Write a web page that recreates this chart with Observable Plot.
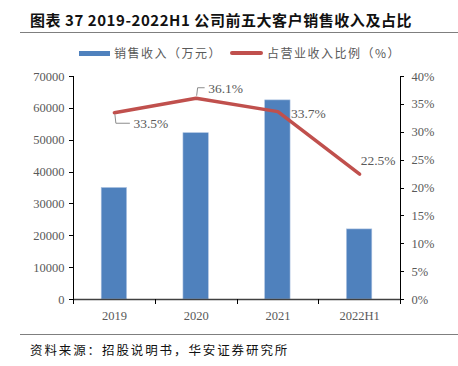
<!DOCTYPE html>
<html><head><meta charset="utf-8">
<script src="https://cdn.jsdelivr.net/npm/d3@7"></script>
<script src="https://cdn.jsdelivr.net/npm/@observablehq/plot@0.6"></script>
<style>
body{margin:0;background:#fff;width:458px;height:366px;position:relative;overflow:hidden;font-family:"Noto Sans CJK SC",sans-serif}
.title{position:absolute;left:30px;top:9px;font-size:15px;font-weight:bold;color:#111;white-space:nowrap;letter-spacing:0.55px}
.rule{position:absolute;left:20px;right:0;height:1px;background:#7f7f7f}
.legend{position:absolute;top:44px;font-size:12px;color:#595959;white-space:nowrap;letter-spacing:1.5px}
.sw{position:absolute;height:5px}
.foot{position:absolute;left:30px;top:340px;font-size:12.5px;color:#111;white-space:nowrap;letter-spacing:1.9px;font-family:"Noto Sans CJK SC",serif}
#chart{position:absolute;left:0;top:60px}
</style></head><body>
<div class="title">图表 37 2019-2022H1 公司前五大客户销售收入及占比</div>
<div class="rule" style="top:32px"></div>
<div class="sw" style="left:79px;top:51px;width:31px;background:#4f81bd"></div>
<div class="legend" style="left:114px">销售收入（万元）</div>
<div class="sw" style="left:230px;top:51px;width:33px;background:#c0504d;height:4px;border-radius:2px"></div>
<div class="legend" style="left:267px">占营业收入比例（%）</div>
<div id="chart"></div>
<div class="rule" style="top:334px"></div>
<div class="foot">资料来源：招股说明书，华安证券研究所</div>
<script>
const categories = ["2019", "2020", "2021", "2022H1"];
const sales = [35000, 52200, 62500, 22000];
const ratio = [0.335, 0.361, 0.337, 0.225];
const ratioLabels = ["33.5%", "36.1%", "33.7%", "22.5%"];
const leftTicks = [0, 10000, 20000, 30000, 40000, 50000, 60000, 70000];
const rightTicks = [0, 0.05, 0.10, 0.15, 0.20, 0.25, 0.30, 0.35, 0.40];

const yMax = 70000, rMax = 0.4;
const toLeft = r => r / rMax * yMax;
const data = categories.map((c, i) => ({i, c, sales: sales[i], ratio: ratio[i], lab: ratioLabels[i], xc: i + 0.5}));

const labDx = [19, 12, 13, 1];
const labDy = [11, -10, 2, -13];
const leader = [true, true, false, false];

const serif = "'Liberation Serif', 'DejaVu Serif', serif";

const leaderMark = (index, scales) => {
  const g = d3.create("svg:g").attr("fill", "none").attr("stroke", "#8c8c8c").attr("stroke-width", 1);
  data.forEach((d, i) => {
    if (!leader[i]) return;
    const px = scales.x(d.xc), py = scales.y(toLeft(d.ratio));
    const ty = py + labDy[i];
    const s = Math.sign(labDy[i]);
    g.append("path").attr("d", `M${px + 1},${py + s * 2}L${px + 2},${ty}L${px + labDx[i] - 3},${ty}`);
  });
  return g.node();
};

const tickMarks = (index, scales) => {
  const g = d3.create("svg:g").attr("stroke", "#000").attr("stroke-width", 1);
  const x0 = scales.x(0), x4 = scales.x(4), yb = scales.y(0);
  leftTicks.forEach(v => { const y = Math.round(scales.y(v)) + 0.5; g.append("path").attr("d", `M${x0 - 4},${y}H${x0}`); });
  rightTicks.forEach(v => { const y = Math.round(scales.y(toLeft(v))) + 0.5; g.append("path").attr("d", `M${x4},${y}H${x4 + 4}`); });
  [0, 1, 2, 3, 4].forEach(k => { const x = Math.round(scales.x(k)) + 0.5; g.append("path").attr("d", `M${x},${yb}V${yb + 5}`); });
  return g.node();
};

const plot = Plot.plot({
  width: 458, height: 270,
  marginLeft: 73, marginRight: 58, marginTop: 16, marginBottom: 31,
  style: {fontFamily: serif, fontSize: "12px", color: "#595959", background: "transparent"},
  x: {type: "linear", domain: [0, 4], axis: null},
  y: {domain: [0, yMax], axis: null},
  marks: [
    Plot.rectY(data, {x1: d => d.i + 0.345, x2: d => d.i + 0.655, y: "sales", fill: "#4f81bd", stroke: "#a9c0e0", strokeWidth: 0.6}),
    Plot.ruleX([0], {stroke: "#000", strokeWidth: 1}),
    Plot.text(leftTicks, {y: d => d, x: () => 0, dx: -9, textAnchor: "end", text: d => String(d), fill: "#595959", fontSize: 12.5}),
    Plot.ruleX([4], {stroke: "#000", strokeWidth: 1}),
    Plot.text(rightTicks, {y: d => toLeft(d), x: () => 4, dx: 11, textAnchor: "start", text: d => Math.round(d * 100) + "%", fill: "#595959", fontSize: 12.5}),
    Plot.ruleY([0], {stroke: "#404040", strokeWidth: 1.6}),
    tickMarks,
    Plot.text(categories, {x: (d, i) => i + 0.5, y: () => 0, dy: 16, text: d => d, fill: "#595959", fontSize: 12.5}),
    Plot.line(data, {x: "xc", y: d => toLeft(d.ratio), stroke: "#c0504d", strokeWidth: 3.5, strokeLinejoin: "round", strokeLinecap: "round"}),
    leaderMark,
    ...data.map((d, i) => Plot.text([d], {x: "xc", y: d => toLeft(d.ratio), text: "lab", textAnchor: "start",
      dx: labDx[i], dy: labDy[i], fill: "#595959", fontSize: 13.5}))
  ]
});
document.getElementById("chart").append(plot);
</script>
</body></html>
